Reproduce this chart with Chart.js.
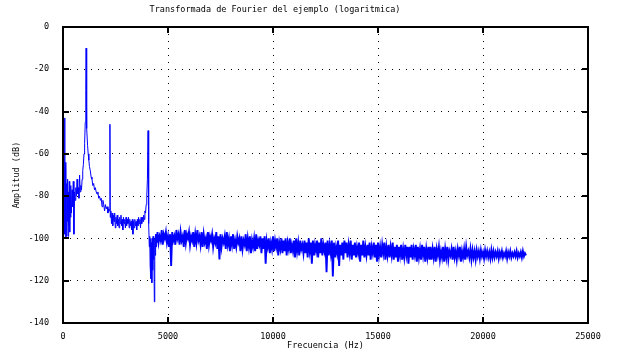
<!DOCTYPE html>
<html>
<head>
<meta charset="utf-8">
<script src="https://cdn.jsdelivr.net/npm/chart.js@4.4.1/dist/chart.umd.min.js"></script>
<style>
  html, body { margin: 0; padding: 0; background: #fff; }
  #wrap { width: 618px; height: 363px; }
</style>
</head>
<body>
<div id="wrap"><canvas id="fft"></canvas></div>
<script>
// Low band (0 - 4500 Hz): peaks and the noisy start
const lowFreq = [0, 30, 50, 75, 95, 110, 125, 140, 160, 180, 200, 220, 240, 260, 280, 300, 320, 340, 360, 380,
  400, 430, 460, 490, 520, 550, 580, 610, 640, 670, 700, 730, 760, 790, 820, 850, 880, 910, 940, 970,
  1000, 1030, 1060, 1085, 1100, 1115, 1140, 1170, 1200, 1230, 1260, 1300, 1340, 1380, 1420, 1460, 1500, 1540, 1580, 1620,
  1660, 1700, 1740, 1780, 1820, 1860, 1900, 1940, 1980, 2020, 2060, 2100, 2140, 2180, 2210, 2235, 2250, 2280, 2310, 2340,
  2370, 2400, 2430, 2460, 2490, 2520, 2550, 2580, 2610, 2640, 2670, 2700, 2730, 2760, 2790, 2820, 2850, 2880, 2910, 2940,
  2970, 3000, 3030, 3060, 3090, 3120, 3150, 3180, 3210, 3240, 3270, 3300, 3330, 3360, 3390, 3420, 3450, 3480, 3510, 3540,
  3570, 3600, 3630, 3660, 3690, 3720, 3750, 3780, 3810, 3840, 3870, 3900, 3930, 3960, 3990, 4020, 4050, 4070, 4090, 4110,
  4130, 4150, 4170, 4190, 4210, 4230, 4250, 4270, 4290, 4310, 4330, 4350, 4370, 4390, 4410, 4430, 4450, 4470];
const lowAmp = [-100, -62, -95, -43, -98, -66, -100, -64, -99, -74, -92, -72, -99, -78, -94, -73, -97, -80, -90, -75,
  -88, -77, -85, -73, -98, -78, -82, -76, -80, -72, -79, -76, -81, -70, -78, -75, -77, -72, -68, -65,
  -60, -55, -45, -30, -10, -25, -48, -56, -60, -63, -66, -68, -71, -72, -75, -74, -77, -76, -78, -79,
  -78, -81, -80, -82, -81, -85, -82, -84, -87, -84, -86, -85, -88, -86, -87, -46, -90, -87, -93, -88,
  -94, -89, -92, -88, -95, -90, -93, -89, -94, -91, -95, -90, -93, -89, -94, -91, -96, -90, -93, -91,
  -95, -90, -94, -91, -93, -90, -95, -91, -94, -92, -96, -91, -98, -92, -95, -91, -94, -92, -96, -91,
  -94, -90, -93, -91, -95, -90, -93, -90, -92, -89, -91, -87, -88, -84, -80, -72, -49, -75, -93, -104,
  -99, -113, -100, -119, -102, -121, -100, -115, -99, -110, -101, -130, -100, -108, -98, -104, -98, -102];

// Noise floor from 4500 Hz up to 22050 Hz, one value per 50 Hz
const noiseStartHz = 4500;
const noiseStepHz = 50;
const noiseAmp = [
  -97, -102, -99, -101, -96, -103, -98, -100, -97, -102, -99, -104, -98, -113, -97, -101, -99, -103, -96, -100,
  -98, -103, -97, -101, -99, -104, -96, -102, -98, -100, -97, -103, -99, -101, -97, -104, -98, -102, -96, -101,
  -99, -103, -97, -104, -98, -102, -100, -105, -97, -103, -99, -101, -98, -104, -100, -102, -97, -105, -99, -110,
  -98, -104, -100, -102, -99, -105, -97, -103, -100, -106, -99, -103, -98, -105, -101, -104, -99, -102, -100, -106,
  -99, -105, -101, -103, -98, -106, -100, -104, -99, -107, -101, -104, -100, -106, -98, -105, -101, -103, -99, -107,
  -100, -105, -99, -112, -101, -104, -100, -107, -102, -105, -99, -106, -101, -104, -100, -108, -102, -105, -100, -107,
  -101, -106, -100, -108, -102, -105, -100, -107, -103, -106, -101, -109, -100, -106, -102, -108, -101, -105, -103, -107,
  -101, -107, -102, -109, -100, -106, -102, -112, -101, -108, -103, -106, -101, -109, -102, -107, -100, -108, -103, -106,
  -102, -116, -101, -108, -103, -107, -101, -118, -102, -109, -104, -107, -101, -113, -103, -108, -102, -110, -101, -107,
  -102, -109, -103, -107, -101, -110, -103, -108, -102, -109, -104, -107, -102, -111, -103, -108, -101, -109, -104, -108,
  -103, -108, -102, -110, -104, -107, -102, -109, -103, -111, -102, -108, -104, -109, -103, -107, -102, -110, -104, -108,
  -103, -109, -104, -108, -102, -110, -104, -109, -103, -111, -104, -108, -103, -110, -105, -109, -103, -108, -104, -112,
  -104, -109, -103, -110, -105, -108, -103, -111, -104, -109, -105, -110, -103, -108, -104, -111, -105, -109, -104, -110,
  -104, -110, -105, -109, -104, -111, -105, -108, -104, -110, -106, -109, -104, -111, -105, -109, -104, -110, -106, -108,
  -105, -110, -104, -109, -106, -110, -105, -108, -104, -111, -106, -109, -105, -110, -104, -108, -106, -109, -105, -110,
  -105.5, -109, -106, -110, -105.5, -108.5, -106, -109.5, -105.5, -108.5, -106.5, -109.5, -105.5, -108.5, -106, -109, -106.5, -109.5, -105.5, -109,
  -106, -109, -106.5, -108.5, -106, -109.5, -106.5, -108.5, -106, -109, -107, -108.5, -106, -109.5, -106.5, -108.5, -106, -109, -107, -108.5,
  -106.5, -108.5, -106, -109, -107, -108.5, -106.5, -109, -106, -108.5, -107, -108];

const xTicks = [0, 5000, 10000, 15000, 20000, 25000];
const yTicks = [0, -20, -40, -60, -80, -100, -120, -140];
const chartTitle = 'Transformada de Fourier del ejemplo (logaritmica)';

const points = lowFreq.map((f, i) => ({ x: f, y: lowAmp[i] }))
  .concat(noiseAmp.map((v, i) => ({ x: noiseStartHz + i * noiseStepHz, y: v })));

const monoFont = { family: 'DejaVu Sans Mono', size: 8.5 };

// gnuplot style box with inward ticks, plus the title (gnuplot puts it a bit left of centre)
const framePlugin = {
  id: 'frame',
  afterDatasetsDraw(chart) {
    const { ctx, chartArea: a, scales } = chart;
    ctx.save();
    ctx.strokeStyle = '#000';
    ctx.lineWidth = 2;
    ctx.beginPath();
    xTicks.forEach(v => {
      const px = Math.round(scales.x.getPixelForValue(v));
      ctx.moveTo(px, a.bottom); ctx.lineTo(px, a.bottom - 6);
      ctx.moveTo(px, a.top); ctx.lineTo(px, a.top + 6);
    });
    yTicks.forEach(v => {
      const py = Math.round(scales.y.getPixelForValue(v));
      ctx.moveTo(a.left, py); ctx.lineTo(a.left + 6, py);
      ctx.moveTo(a.right, py); ctx.lineTo(a.right - 6, py);
    });
    ctx.stroke();
    ctx.strokeRect(a.left, a.top, a.right - a.left, a.bottom - a.top);

    ctx.fillStyle = '#000';
    ctx.font = monoFont.size + 'px "' + monoFont.family + '"';
    ctx.textAlign = 'center';
    ctx.textBaseline = 'middle';
    ctx.fillText(chartTitle, 275, 9.5);
    ctx.restore();
  }
};

new Chart(document.getElementById('fft'), {
  type: 'line',
  data: {
    datasets: [{
      data: points,
      borderColor: '#0000ff',
      borderWidth: 1,
      pointRadius: 0,
      tension: 0,
      fill: false,
      // the dense noise floor reads as a solid band in the original
      segment: { borderWidth: c => (c.p0.parsed.x >= 4450 ? 1.9 : 1) }
    }]
  },
  options: {
    responsive: true,
    maintainAspectRatio: false,
    animation: false,
    layout: { padding: { left: 0, right: 30, top: 27, bottom: 0 } },
    plugins: {
      legend: { display: false },
      tooltip: { enabled: false },
      title: { display: false }
    },
    scales: {
      x: {
        type: 'linear',
        min: 0,
        max: 25000,
        afterBuildTicks: s => { s.ticks = xTicks.map(v => ({ value: v })); },
        afterFit: s => { s.height = 40; },
        ticks: { color: '#000', font: monoFont, padding: 9, maxRotation: 0, callback: v => String(v) },
        grid: { color: '#000', lineWidth: 1, drawTicks: false },
        border: { display: false, dash: [1, 6] },
        title: {
          display: true,
          text: 'Frecuencia (Hz)',
          color: '#000',
          font: monoFont,
          padding: { top: 0, bottom: 12 }
        }
      },
      y: {
        min: -140,
        max: 0,
        afterBuildTicks: s => { s.ticks = yTicks.map(v => ({ value: v })); },
        afterFit: s => { s.width = 63; },
        ticks: { color: '#000', font: monoFont, padding: 14, callback: v => String(v) },
        grid: { color: '#000', lineWidth: 1, drawTicks: false },
        border: { display: false, dash: [1, 6] },
        title: {
          display: true,
          text: 'Amplitud (dB)',
          color: '#000',
          font: monoFont,
          padding: { top: 12, bottom: 0 }
        }
      }
    }
  },
  plugins: [framePlugin]
});
</script>
</body>
</html>
